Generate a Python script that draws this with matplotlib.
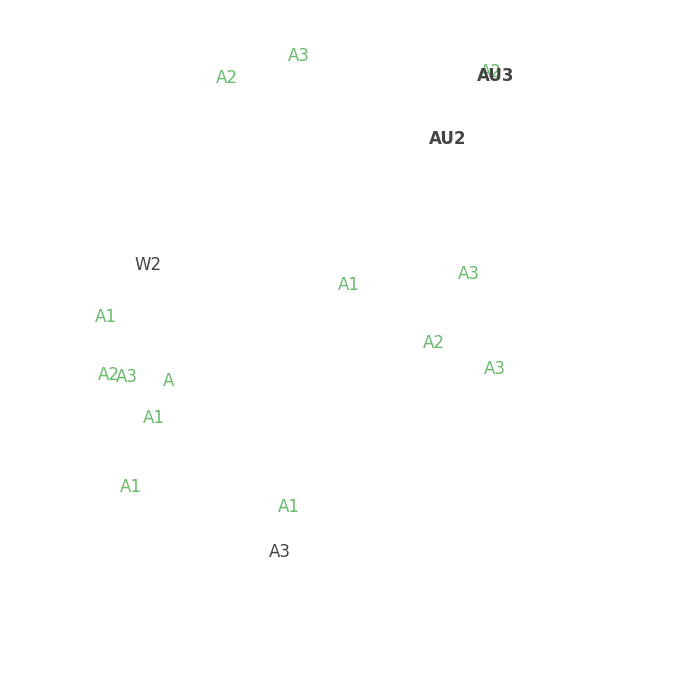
import matplotlib
matplotlib.use("Agg")
import matplotlib.pyplot as plt

# label positions (embedding coordinates)
labels = ["A3", "A2", "A2", "A1", "A3", "A1", "A2", "A3",
          "A2", "A3", "A", "A1", "A1", "A1"]
xs = [299, 227, 491, 349, 469, 106, 434, 495, 109, 127, 169, 154, 131, 289]
ys = [56, 78, 72, 285, 274, 317, 343, 369, 375, 377, 381, 418, 487, 507]

# dark labels
dark_labels = ["AU3", "AU2", "W2", "A3"]
dark_xs = [496, 448, 148, 280]
dark_ys = [76, 139, 265, 552]
dark_bold = [True, True, False, False]

fig = plt.figure(figsize=(7, 7), dpi=100)
ax = fig.add_axes([0, 0, 1, 1])
ax.set_xlim(0, 700)
ax.set_ylim(700, 0)
ax.axis("off")

for t, x, y in zip(labels, xs, ys):
    ax.text(x, y, t, color="#4caf50", alpha=0.85, fontsize=12,
            ha="center", va="center")

for t, x, y, b in zip(dark_labels, dark_xs, dark_ys, dark_bold):
    ax.text(x, y, t, color="#444444", fontsize=12,
            fontweight="semibold" if b else "normal",
            ha="center", va="center")

fig.savefig("out.png", dpi=100, facecolor="white")
